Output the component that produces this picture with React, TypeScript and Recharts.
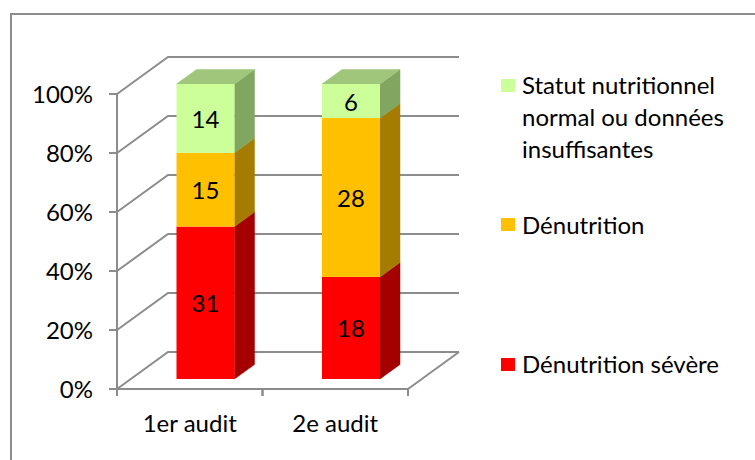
import React from 'react';
import { BarChart, Bar, XAxis, YAxis, CartesianGrid, LabelList, Legend } from 'recharts';

// ---- data ----
const categories = ['1er audit', '2e audit'];
const severeValues = [31, 18];
const moderateValues = [15, 28];
const normalValues = [14, 6];
const seriesNames = {
  severe: 'Dénutrition sévère',
  moderate: 'Dénutrition',
  normal: 'Statut nutritionnel normal ou données insuffisantes',
};
const legendOrder = ['normal', 'moderate', 'severe'];
const yTicks = [0, 0.2, 0.4, 0.6, 0.8, 1];

const data = categories.map((name, i) => ({
  name,
  severe: severeValues[i],
  moderate: moderateValues[i],
  normal: normalValues[i],
}));

// ---- layout / style ----
const W = 755;
const H = 460;
const PLOT_LEFT = 117;
const PLOT_RIGHT = 408;
const PLOT_TOP = 94;
const PLOT_BOTTOM = 389;
const YW = 60;
const XH = 40;
const FONT = 'Lato, "Noto Sans", sans-serif';
const FS = 24;
const GRID = '#8c8c8c';
const WALL = { dx: 51, dy: 37 };
const BAR_OFF = { dx: 15.5, dy: 10 };
const BAR_DEPTH = { dx: 20, dy: 14.5 };

const COLORS: any = {
  severe: { front: '#FF0000', side: '#A50000', top: '#CC0000' },
  moderate: { front: '#FFC000', side: '#A67C00', top: '#CC9A00' },
  normal: { front: '#CCFF99', side: '#80A660', top: '#9FC67A' },
};

const makeShape = (c: { front: string; side: string; top: string }, drawTop: boolean) => (p: any) => {
  const { x, y, width, height } = p;
  if (width == null || height == null || isNaN(x) || isNaN(y)) return <g />;
  const fx = x + BAR_OFF.dx;
  const fy = y - BAR_OFF.dy;
  const fb = fy + height;
  const fr = fx + width;
  const side = `M${fr},${fy} L${fr + BAR_DEPTH.dx},${fy - BAR_DEPTH.dy} L${fr + BAR_DEPTH.dx},${fb - BAR_DEPTH.dy} L${fr},${fb} Z`;
  const top = `M${fx},${fy} L${fx + BAR_DEPTH.dx},${fy - BAR_DEPTH.dy} L${fr + BAR_DEPTH.dx},${fy - BAR_DEPTH.dy} L${fr},${fy} Z`;
  return (
    <g>
      <path d={side} fill={c.side} stroke={c.side} strokeWidth={0.5} />
      {drawTop && <path d={top} fill={c.top} stroke={c.top} strokeWidth={0.5} />}
      <rect x={fx} y={fy} width={width} height={height} fill={c.front} />
    </g>
  );
};

const renderLabel = (p: any) => {
  const vb = p.viewBox || p;
  const cx = vb.x + vb.width / 2 + BAR_OFF.dx;
  const cy = vb.y + vb.height / 2 - BAR_OFF.dy;
  return (
    <text x={cx} y={cy} textAnchor="middle" dominantBaseline="central" fill="#000" fontSize={FS} fontFamily={FONT}>
      {p.value}
    </text>
  );
};

const renderGridLine = (p: any) => {
  const { x1, x2, y1 } = p;
  const parts = [`M${x1},${y1} L${x1 + WALL.dx},${y1 - WALL.dy} L${x2 + WALL.dx},${y1 - WALL.dy}`];
  if (Math.abs(y1 - PLOT_BOTTOM) < 1) {
    parts.push(`M${x2},${y1} L${x2 + WALL.dx},${y1 - WALL.dy}`);
  }
  return <path key={p.key ?? `g-${p.index}`} d={parts.join(' ')} stroke={GRID} strokeWidth={2} fill="none" />;
};

const XTick = (p: any) => {
  const { x, y, payload } = p;
  const half = payload && typeof payload.offset === 'number' && payload.offset > 0
    ? payload.offset
    : (PLOT_RIGHT - PLOT_LEFT) / categories.length / 2;
  const axisY = y - 7;
  return (
    <g>
      <line x1={x - half} x2={x - half} y1={axisY} y2={axisY + 7} stroke={GRID} strokeWidth={2} />
      <line x1={x + half} x2={x + half} y1={axisY} y2={axisY + 7} stroke={GRID} strokeWidth={2} />
      <text x={x} y={axisY + 43} textAnchor="middle" fill="#000" fontSize={FS} fontFamily={FONT}>
        {payload.value}
      </text>
    </g>
  );
};

const LegendContent = (props: any) => {
  const payload = props.payload || [];
  const items = legendOrder
    .map((k) => payload.find((it: any) => it.dataKey === k))
    .filter(Boolean);
  return (
    <div style={{ position: 'relative', width: 250, height: 320, fontFamily: FONT, fontSize: FS, color: '#000' }}>
      {items.map((it: any, i: number) => (
        <div
          key={it.value}
          style={{ position: 'absolute', left: 0, top: i * 139.5, display: 'flex', alignItems: 'flex-start' }}
        >
          <div style={{ width: 14, height: 13, background: it.color, marginTop: 9.5, flex: '0 0 auto' }} />
          <div style={{ marginLeft: 7, lineHeight: '32px', width: 225 }}>{it.value}</div>
        </div>
      ))}
    </div>
  );
};

export default function App() {
  return (
    <div style={{ position: 'absolute', left: 0, top: 0, width: W, height: H, overflow: 'hidden', background: '#fff' }}>
      <div
        style={{
          position: 'absolute',
          left: 10,
          top: 13,
          width: W + 20,
          height: H + 20,
          borderTop: `2px solid ${GRID}`,
          borderLeft: `2px solid ${GRID}`,
        }}
      />
      <div style={{ position: 'absolute', left: 0, top: 0 }}>
        <BarChart
          width={W}
          height={H}
          data={data}
          stackOffset="expand"
          barSize={58}
          margin={{ top: PLOT_TOP, right: W - PLOT_RIGHT, bottom: H - PLOT_BOTTOM - XH, left: PLOT_LEFT - YW }}
        >
          <CartesianGrid horizontal={renderGridLine} vertical={false} />
          <XAxis
            dataKey="name"
            height={XH}
            tickLine={false}
            tickSize={7}
            tickMargin={0}
            axisLine={{ stroke: GRID, strokeWidth: 2 }}
            tick={<XTick />}
          />
          <YAxis
            type="number"
            domain={[0, 1]}
            ticks={yTicks}
            width={YW}
            tickFormatter={(v: number) => `${Math.round(v * 100)}%`}
            axisLine={{ stroke: GRID, strokeWidth: 2 }}
            tickLine={{ stroke: GRID, strokeWidth: 2 }}
            tickSize={8}
            tickMargin={16}
            tick={{ fill: '#000', fontSize: FS, fontFamily: FONT }}
          />
          <Legend
            layout="vertical"
            align="center"
            verticalAlign="middle"
            content={<LegendContent />}
            wrapperStyle={{ position: 'absolute', left: 501, top: 69, width: 250, height: 320 }}
          />
          <Bar dataKey="severe" name={seriesNames.severe} stackId="a" fill={COLORS.severe.front}
            shape={makeShape(COLORS.severe, false)} isAnimationActive={false}>
            <LabelList dataKey="severe" content={renderLabel} />
          </Bar>
          <Bar dataKey="moderate" name={seriesNames.moderate} stackId="a" fill={COLORS.moderate.front}
            shape={makeShape(COLORS.moderate, false)} isAnimationActive={false}>
            <LabelList dataKey="moderate" content={renderLabel} />
          </Bar>
          <Bar dataKey="normal" name={seriesNames.normal} stackId="a" fill={COLORS.normal.front}
            shape={makeShape(COLORS.normal, true)} isAnimationActive={false}>
            <LabelList dataKey="normal" content={renderLabel} />
          </Bar>
        </BarChart>
      </div>
    </div>
  );
}
